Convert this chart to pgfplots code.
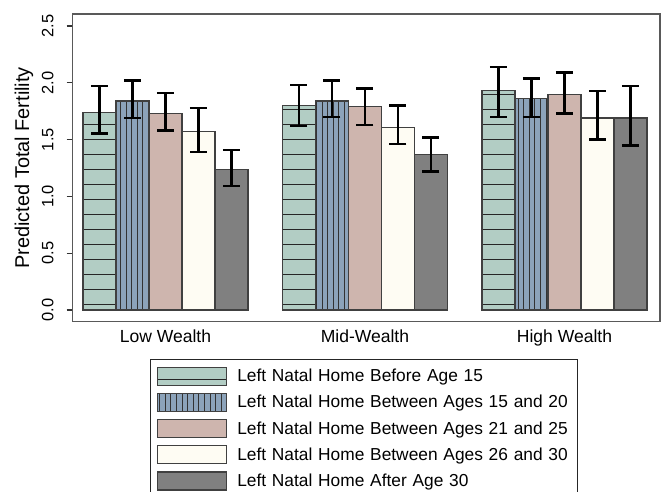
\documentclass[border=0pt]{standalone}
\usepackage{pgfplots}
\pgfplotsset{compat=1.18}
\usepackage{pgfplotstable}
\usepackage{fontspec}
\setmainfont{Liberation Sans}
\usetikzlibrary{patterns}

\definecolor{cA}{RGB}{178,205,196}
\definecolor{cB}{RGB}{140,163,186}
\definecolor{cC}{RGB}{206,181,174}
\definecolor{cD}{RGB}{254,252,243}
\definecolor{cE}{RGB}{128,128,128}

% stripes for the first two series (cells overlap a little so no seams show)
\pgfdeclarepatternformonly{hstripe}{\pgfpoint{-2bp}{0bp}}{\pgfpoint{42bp}{15bp}}{\pgfpoint{40bp}{15bp}}{%
  \pgfsetlinewidth{1.3bp}\pgfpathmoveto{\pgfpoint{-2bp}{7.5bp}}\pgfpathlineto{\pgfpoint{42bp}{7.5bp}}\pgfusepath{stroke}}
\pgfdeclarepatternformonly{vstripe}{\pgfpoint{0bp}{-2bp}}{\pgfpoint{5.6bp}{42bp}}{\pgfpoint{5.6bp}{40bp}}{%
  \pgfsetlinewidth{1bp}\pgfpathmoveto{\pgfpoint{2.8bp}{-2bp}}\pgfpathlineto{\pgfpoint{2.8bp}{42bp}}\pgfusepath{stroke}}

\tikzset{
  barA/.style={draw=black!75, line width=1.2bp, fill=cA, postaction={pattern=hstripe, pattern color=black!85, draw=black!75}},
  barB/.style={draw=black!75, line width=1.2bp, fill=cB, postaction={pattern=vstripe, pattern color=black!80, draw=black!75}},
  barC/.style={draw=black!75, line width=1.2bp, fill=cC},
  barD/.style={draw=black!75, line width=1.2bp, fill=cD},
  barE/.style={draw=black!75, line width=1.2bp, fill=cE},
}

% x: 0 low, 1 mid, 2 high; y: estimate; hi/lo: ends of the error bar
\pgfplotstableread{
x y hi lo
0 1.74 1.97 1.555
1 1.80 1.98 1.62
2 1.93 2.14 1.70
}\tA
\pgfplotstableread{
x y hi lo
0 1.84 2.02 1.69
1 1.84 2.02 1.70
2 1.86 2.04 1.70
}\tB
\pgfplotstableread{
x y hi lo
0 1.73 1.91 1.58
1 1.79 1.95 1.63
2 1.90 2.09 1.73
}\tC
\pgfplotstableread{
x y hi lo
0 1.57 1.78 1.39
1 1.61 1.80 1.46
2 1.69 1.93 1.50
}\tD
\pgfplotstableread{
x y hi lo
0 1.24 1.41 1.09
1 1.37 1.52 1.22
2 1.69 1.97 1.45
}\tE

\begin{document}
\begin{tikzpicture}[font=\fontsize{17.4}{20}\selectfont]
\begin{axis}[
  name=ax,
  scale only axis, width=587.3bp, height=307.7bp,
  xmin=-0.465, xmax=2.479, ymin=-0.103, ymax=2.606,
  ybar=0pt, bar width=33bp,
  axis line style={black!65, line width=1.3bp},
  tick align=outside, major tick length=6bp,
  xtick={0,1,2}, xticklabels={Low Wealth, Mid-Wealth, High Wealth},
  xtick style={draw=none},
  xticklabel style={anchor=base, yshift=-14.6bp, font=\fontsize{17.6}{20}\selectfont},
  ytick={0,0.5,1,1.5,2,2.5}, yticklabels={0.0,0.5,1.0,1.5,2.0,2.5},
  ytick pos=left,
  ytick style={black!80, line width=1.2bp},
  yticklabel style={xshift=-9.7bp, rotate=90, anchor=south, font=\fontsize{16.5}{19}\selectfont},
  ylabel={Predicted Total Fertility},
  every axis y label/.style={at={(axis description cs:-0.0829,0.5)}, rotate=90, anchor=center,
    font=\fontsize{20}{23}\selectfont},
  error bars/error mark=|,
  error bars/error bar style={black, line width=2.5bp},
  error bars/error mark options={black, line width=2.5bp, mark size=8.5bp},
  legend style={at={(axis description cs:0.1316,-0.1212)}, anchor=north west,
    draw=black!85, line width=1.2bp, fill=white,
    inner xsep=6.5bp, inner ysep=7bp, row sep=7bp,
    nodes={inner ysep=0bp, inner xsep=2bp},
    cells={anchor=west},
    /tikz/every odd column/.append style={column sep=8bp},
    /tikz/every even column/.append style={text width=332bp}},
]
\addplot[barA, legend image code/.code={\draw[barA] (0bp,-9bp) rectangle (69bp,9bp);},
  error bars/.cd, y dir=both, y explicit] table[x=x, y=y,
  y error plus expr=\thisrow{hi}-\thisrow{y}, y error minus expr=\thisrow{y}-\thisrow{lo}] {\tA};
\addplot[barB, legend image code/.code={\draw[barB] (0bp,-9bp) rectangle (69bp,9bp);},
  error bars/.cd, y dir=both, y explicit] table[x=x, y=y,
  y error plus expr=\thisrow{hi}-\thisrow{y}, y error minus expr=\thisrow{y}-\thisrow{lo}] {\tB};
\addplot[barC, legend image code/.code={\draw[barC] (0bp,-9bp) rectangle (69bp,9bp);},
  error bars/.cd, y dir=both, y explicit] table[x=x, y=y,
  y error plus expr=\thisrow{hi}-\thisrow{y}, y error minus expr=\thisrow{y}-\thisrow{lo}] {\tC};
\addplot[barD, legend image code/.code={\draw[barD] (0bp,-9bp) rectangle (69bp,9bp);},
  error bars/.cd, y dir=both, y explicit] table[x=x, y=y,
  y error plus expr=\thisrow{hi}-\thisrow{y}, y error minus expr=\thisrow{y}-\thisrow{lo}] {\tD};
\addplot[barE, legend image code/.code={\draw[barE] (0bp,-9bp) rectangle (69bp,9bp);},
  error bars/.cd, y dir=both, y explicit] table[x=x, y=y,
  y error plus expr=\thisrow{hi}-\thisrow{y}, y error minus expr=\thisrow{y}-\thisrow{lo}] {\tE};
\legend{Left Natal Home Before Age 15,
        Left Natal Home Between Ages 15 and 20,
        Left Natal Home Between Ages 21 and 25,
        Left Natal Home Between Ages 26 and 30,
        Left Natal Home After Age 30}
\end{axis}
\pgfresetboundingbox
\path[use as bounding box] ([shift={(-72.7bp,-170.3bp)}]ax.south west) rectangle ([shift={(8bp,14bp)}]ax.north east);
\end{tikzpicture}
\end{document}
